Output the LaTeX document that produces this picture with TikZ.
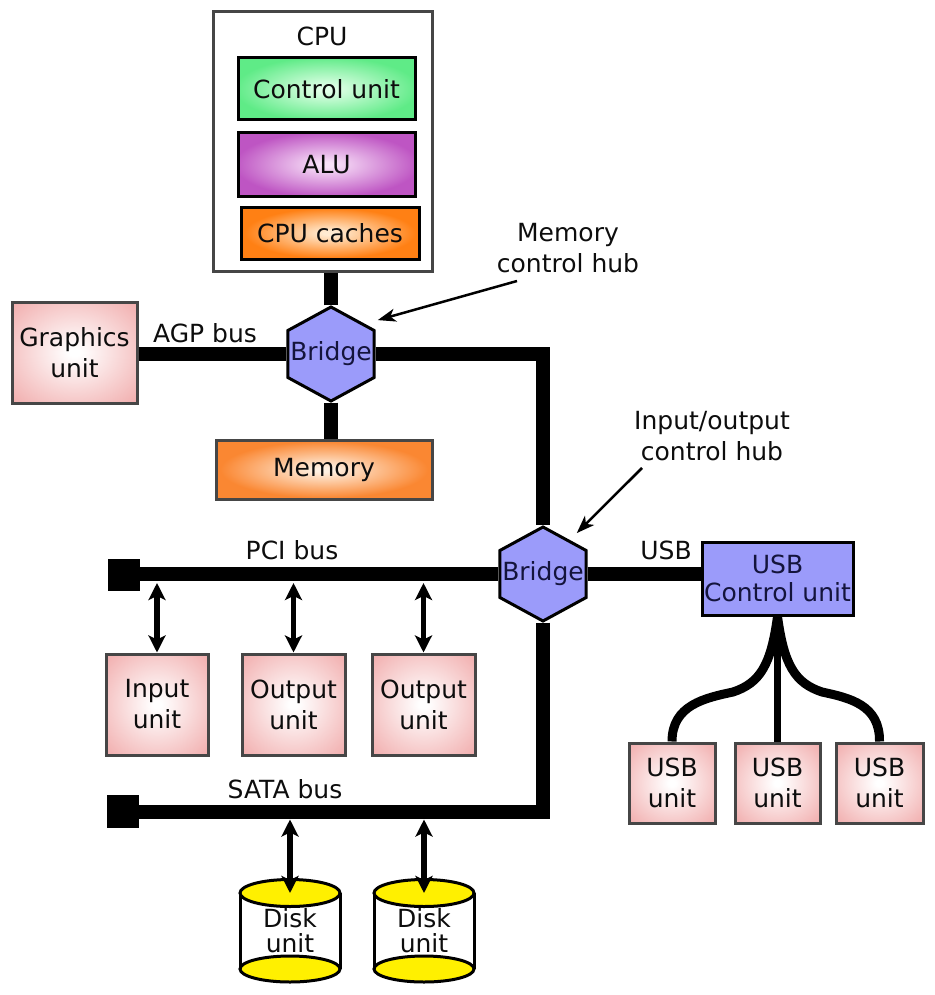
\documentclass[tikz,border=0pt]{standalone}
\usepackage{fontspec}
\setmainfont{DejaVu Sans}
\usetikzlibrary{shapes.geometric,arrows.meta,calc}
\definecolor{cuout}{RGB}{95,235,135}
\definecolor{cuin}{RGB}{225,255,232}
\definecolor{aluout}{RGB}{190,85,195}
\definecolor{aluin}{RGB}{248,225,248}
\definecolor{orout}{RGB}{255,128,20}
\definecolor{orin}{RGB}{255,235,210}
\definecolor{memout}{RGB}{250,135,50}
\definecolor{memin}{RGB}{255,240,225}
\definecolor{pinkout}{RGB}{240,166,166}
\definecolor{hexblue}{RGB}{155,155,250}
\definecolor{bordgray}{RGB}{70,70,70}
\definecolor{navy}{RGB}{20,20,60}
\definecolor{diskyel}{RGB}{255,240,0}
\pgfdeclareradialshading{pinksh}{\pgfpoint{0bp}{0bp}}{color(0bp)=(white); color(2bp)=(white); color(38bp)=(pinkout); color(50bp)=(pinkout)}
\pgfdeclareradialshading{cush}{\pgfpoint{0bp}{0bp}}{color(0bp)=(cuin); color(2bp)=(cuin); color(26bp)=(cuout); color(50bp)=(cuout)}
\pgfdeclareradialshading{alush}{\pgfpoint{0bp}{0bp}}{color(0bp)=(aluin); color(2bp)=(aluin); color(26bp)=(aluout); color(50bp)=(aluout)}
\pgfdeclareradialshading{orsh}{\pgfpoint{0bp}{0bp}}{color(0bp)=(orin); color(2bp)=(orin); color(24bp)=(orout); color(50bp)=(orout)}
\pgfdeclareradialshading{memsh}{\pgfpoint{0bp}{0bp}}{color(0bp)=(memin); color(2bp)=(memin); color(24bp)=(memout); color(50bp)=(memout)}
\begin{document}
\begin{tikzpicture}[x=1pt,y=-1pt,
  every node/.append style={font=\fontsize{25}{31}\selectfont, text=black!95, inner sep=0pt},
  graybox/.style={draw=bordgray, line width=3pt, fill=white},
  blkbox/.style={draw=black, line width=3pt},
  pinkbox/.style={draw=bordgray, line width=3pt, shading=pinksh, align=center},
  hexa/.style={regular polygon, regular polygon sides=6, shape border rotate=30, minimum size=94pt, xscale=1.06, draw=black, line width=3pt, fill=hexblue},
  hexlbl/.style={text=navy},
  endsq/.style={fill=black, minimum width=32pt, minimum height=32pt},
  bus/.style={line width=14pt, line join=miter, draw=black},
  dbl/.style={line width=5.5pt, arrows={Stealth[length=17pt,width=17pt,inset=4pt]-Stealth[length=17pt,width=17pt,inset=4pt]}},
  ptr/.style={line width=2.5pt, arrows={-Stealth[length=18pt,width=13pt,inset=5pt]}},
  usbw/.style={line width=9pt},
  disk/.style={draw=black, line width=3pt}
]
\useasboundingbox (0,0) rectangle (934,995);

% CPU
\node[graybox, minimum width=219pt, minimum height=259pt] (cpu) at (322.5,141.5) {};
\node (cpulbl) at (322,36) {CPU};
\node[blkbox, shading=cush, minimum width=177pt, minimum height=62pt] (cu) at (326.5,89) {Control unit};
\node[blkbox, shading=alush, minimum width=177pt, minimum height=63pt] (alu) at (326.5,164.5) {ALU};
\node[blkbox, shading=orsh, minimum width=178pt, minimum height=52pt] (cache) at (330,233) {CPU caches};

% Bridges
\node[hexa] (b1) at (331,354) {};
\node[hexlbl] (b1lbl) at (b1) {Bridge};
\node[hexa] (b2) at (543,574) {};
\node[hexlbl] (b2lbl) at (b2) {Bridge};

% Graphics and memory
\node[pinkbox, minimum width=125pt, minimum height=101pt] (gfx) at (74.5,352.5) {Graphics\\unit};
\node[draw=bordgray, line width=3pt, shading=memsh, minimum width=216pt, minimum height=59pt] (mem) at (324,469.5) {Memory};

% hub labels
\node[align=center] (memhub) at (568,248) {Memory\\control hub};
\node[align=center] (iohub) at (712,436) {Input/output\\control hub};
\coordinate (mhs) at (517,281);
\coordinate (ios) at (642,468);

% USB control
\node[draw=black, line width=3pt, fill=hexblue, align=center, minimum width=151pt, minimum height=73pt, text=navy, font=\fontsize{25}{28}\selectfont] (usbc) at (777.5,578.5) {USB\\Control unit};

% bus ends
\node[endsq] (pciend) at (124,575) {};
\node[endsq, minimum height=33pt] (sataend) at (123,811.5) {};

% PCI units
\node[pinkbox, minimum width=102pt, minimum height=101pt] (in1) at (157,704.5) {Input\\unit};
\node[pinkbox, minimum width=103pt, minimum height=101pt] (out1) at (293.5,704.5) {Output\\unit};
\node[pinkbox, minimum width=103pt, minimum height=101pt] (out2) at (423.5,704.5) {Output\\unit};

% USB units
\node[pinkbox, minimum width=86pt, minimum height=80pt] (usb1) at (672,783) {USB\\unit};
\node[pinkbox, minimum width=85pt, minimum height=80pt] (usb2) at (777.5,783) {USB\\unit};
\node[pinkbox, minimum width=87pt, minimum height=80pt] (usb3) at (879.5,783) {USB\\unit};

% bus labels
\node (agplbl) at (205,333) {AGP bus};
\node (pcilbl) at (292,550) {PCI bus};
\node (satalbl) at (285,789) {SATA bus};
\node (usblbl) at (666,550) {USB};

% buses
\draw[bus] (b1.north) -- (b1.north |- cpu.south);
\draw[bus] (gfx.east |- b1) -- (b1.west);
\draw[bus] (b1.south) -- (b1.south |- mem.north);
\draw[bus] (b1.east) -| (b2.north);
\draw[bus] (pciend.east |- b2) -- (b2.west);
\draw[bus] (b2.east) -- (b2.east -| usbc.west);
\draw[bus] (b2.south) |- (sataend.east);

% hub pointers
\draw[ptr] (mhs) -- ([xshift=14pt,yshift=3pt]b1.north east);
\draw[ptr] (ios) -- ([xshift=1pt,yshift=10pt]b2.north east);

% PCI arrows
\draw[dbl] ($(in1.north |- pciend)+(0,8)$) -- (in1.north);
\draw[dbl] ($(out1.north |- pciend)+(0,8)$) -- (out1.north);
\draw[dbl] ($(out2.north |- pciend)+(0,8)$) -- (out2.north);

% USB wires
\draw[usbw] (usbc.south) .. controls (771,665) and (760,683) .. (733,692) .. controls (705,698) and (672,705) .. (usb1.north);
\draw[line width=7pt] (usbc.south) -- (usbc.south |- usb2.north);
\draw[usbw] (usbc.south) .. controls (784,665) and (795,683) .. (822,692) .. controls (850,698) and (880,705) .. (usb3.north);

% disks
\coordinate (d1top) at (290,893);
\coordinate (d2top) at (424,893);
\foreach \cx in {290,424}{
  \fill[white] (\cx-50,893) rectangle (\cx+50,969);
  \draw[disk, fill=diskyel] (\cx,969) ellipse [x radius=50, y radius=13];
  \draw[disk] (\cx-50,893) -- (\cx-50,969) (\cx+50,893) -- (\cx+50,969);
  \draw[disk, fill=diskyel] (\cx,893) ellipse [x radius=50, y radius=13.5];
}
\node[align=center, font=\fontsize{25}{25}\selectfont] (d1) at (290,931) {Disk\\unit};
\node[align=center, font=\fontsize{25}{25}\selectfont] (d2) at (424,931) {Disk\\unit};
\draw[dbl] ($(d1top |- sataend)+(0,8)$) -- (d1top);
\draw[dbl] ($(d2top |- sataend)+(0,8)$) -- (d2top);
\end{tikzpicture}
\end{document}
